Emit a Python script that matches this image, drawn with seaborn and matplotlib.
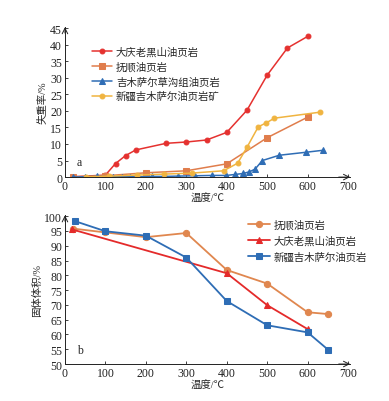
import numpy as np
import pandas as pd
import matplotlib
matplotlib.use('Agg')
import matplotlib.pyplot as plt
import seaborn as sns

sns.set_style('white')
plt.rcParams['font.family'] = ['Liberation Serif', 'Noto Sans CJK SC']
plt.rcParams['axes.unicode_minus'] = False

# ---- 图 a: 失重率 ----
dq_t = [20, 100, 125, 150, 175, 250, 300, 350, 400, 450, 500, 550, 600]
dq_w = [0.1, 0.6, 4.1, 6.5, 8.2, 10.2, 10.6, 11.2, 13.5, 20.2, 30.8, 39.0, 42.5]

fs_t = [20, 100, 200, 300, 400, 500, 600]
fs_w = [0.1, 0.4, 1.3, 1.9, 4.0, 11.9, 18.1]

cg_t = [20, 50, 80, 120, 140, 160, 180, 215, 247, 280, 322, 364, 399, 421, 441, 456, 470, 488, 530, 596, 638]
cg_w = [0.0, 0.1, 0.2, 0.1, 0.1, 0.1, 0.1, 0.2, 0.2, 0.3, 0.4, 0.5, 0.5, 0.8, 1.1, 1.6, 2.4, 5.0, 6.6, 7.5, 8.1]

xj_t = [52, 110, 177, 245, 313, 392, 427, 450, 478, 498, 518, 630]
xj_w = [0.1, 0.3, 0.6, 0.9, 1.2, 1.9, 4.2, 9.0, 15.2, 16.4, 17.8, 19.6]

# ---- 图 b: 固体体积 ----
b_fs_t = [20, 100, 200, 300, 400, 500, 600, 650]
b_fs_v = [95.8, 94.5, 92.9, 94.3, 81.8, 77.2, 67.5, 66.9]

b_dq_t = [18, 400, 500, 600]
b_dq_v = [95.5, 80.7, 69.9, 61.8]

b_xj_t = [25, 100, 200, 300, 400, 500, 600, 650]
b_xj_v = [98.3, 94.9, 93.4, 86.0, 71.3, 63.1, 60.7, 54.9]

LBL = 7.5


def style_axes(ax, ylim, yticks):
    ax.set_xlim(0, 705)
    ax.set_ylim(*ylim)
    ax.set_xticks(range(0, 701, 100))
    ax.set_yticks(yticks)
    for s in ['top', 'right']:
        ax.spines[s].set_visible(False)
    for s in ['left', 'bottom']:
        ax.spines[s].set_color('#222222')
        ax.spines[s].set_linewidth(0.7)
    ax.tick_params(direction='in', length=2, width=0.6, labelsize=8.5, pad=2,
                   left=True, bottom=True, colors='#222222')
    # 坐标轴箭头
    ax.annotate('', xy=(1.0, 0), xytext=(0.96, 0), xycoords='axes fraction',
                arrowprops=dict(arrowstyle='->', lw=0.7, color='#222222',
                                shrinkA=0, shrinkB=0), annotation_clip=False)
    ax.annotate('', xy=(0, 1.0), xytext=(0, 0.96), xycoords='axes fraction',
                arrowprops=dict(arrowstyle='->', lw=0.7, color='#222222',
                                shrinkA=0, shrinkB=0), annotation_clip=False)
    ax.set_xlabel('温度/℃', fontsize=LBL, labelpad=1)


fig = plt.figure(figsize=(3.89, 4.02), dpi=100)
ax1 = fig.add_axes([0.167, 0.557, 0.733, 0.373])
ax2 = fig.add_axes([0.167, 0.092, 0.733, 0.370])

series_a = [
    (dq_t, dq_w, '大庆老黑山油页岩', '#e5312f', 'o', 3.5),
    (fs_t, fs_w, '抚顺油页岩', '#e07d4c', 's', 4.5),
    (cg_t, cg_w, '吉木萨尔草沟组油页岩', '#2f6db5', '^', 4),
    (xj_t, xj_w, '新疆吉木萨尔油页岩矿', '#f0b440', 'o', 3.5),
]
for t, w, name, c, m, ms in series_a:
    sns.lineplot(x=t, y=w, ax=ax1, color=c, marker=m, markersize=ms,
                 markeredgecolor=c, linewidth=1.1, label=name,
                 sort=False, estimator=None)

style_axes(ax1, (0, 45.3), range(0, 46, 5))
ax1.set_ylabel('失重率/%', fontsize=LBL, labelpad=2)
ax1.text(30, 3.6, 'a', fontsize=8.5)
ax1.legend(loc='upper left', bbox_to_anchor=(0.08, 0.90), frameon=False,
           fontsize=LBL, handlelength=1.9, handletextpad=0.4,
           labelspacing=0.45, borderaxespad=0)

series_b = [
    (b_fs_t, b_fs_v, '抚顺油页岩', '#e0874f', 'o', 4.5),
    (b_dq_t, b_dq_v, '大庆老黑山油页岩', '#e42a2a', '^', 4.5),
    (b_xj_t, b_xj_v, '新疆吉木萨尔油页岩', '#2e6db5', 's', 4.5),
]
for t, v, name, c, m, ms in series_b:
    sns.lineplot(x=t, y=v, ax=ax2, color=c, marker=m, markersize=ms,
                 markeredgecolor=c, linewidth=1.3, label=name,
                 sort=False, estimator=None)

style_axes(ax2, (50, 100.3), range(50, 101, 5))
ax2.set_ylabel('固体体积/%', fontsize=LBL, labelpad=2)
ax2.text(30, 53.8, 'b', fontsize=8.5)
ax2.legend(loc='upper right', bbox_to_anchor=(1.075, 1.0), frameon=False,
           fontsize=LBL, handlelength=2.1, handletextpad=0.4,
           labelspacing=0.55, borderaxespad=0)

fig.savefig('out.png', dpi=100)
